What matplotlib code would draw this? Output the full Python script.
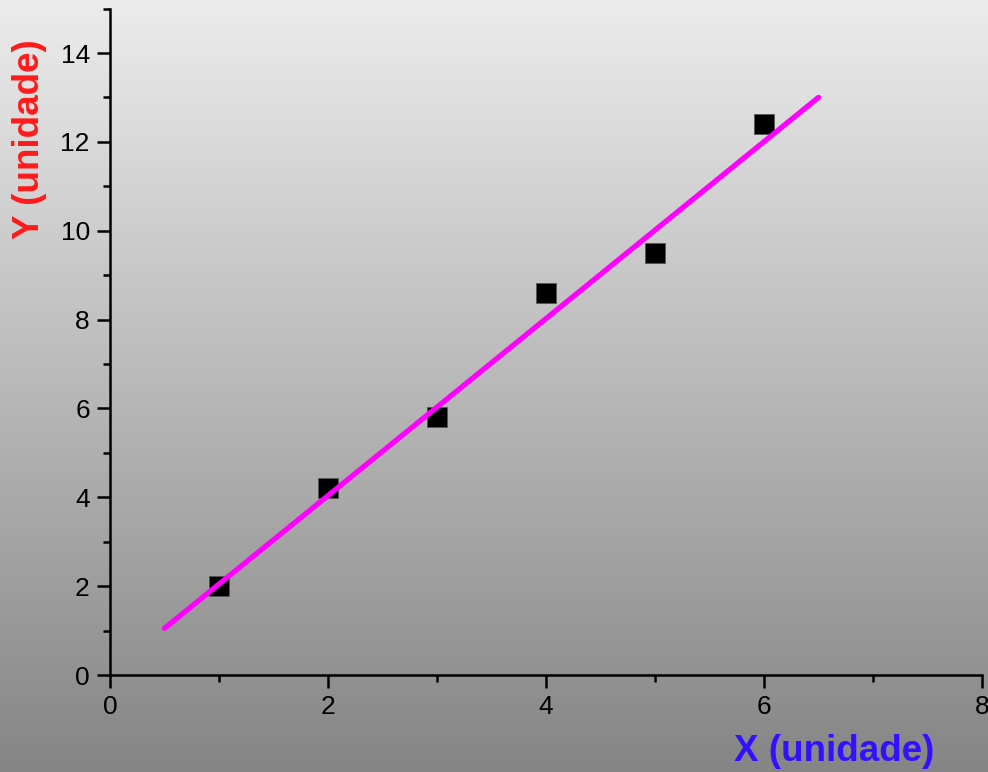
import numpy as np
import matplotlib
matplotlib.use("Agg")
import matplotlib.pyplot as plt
from matplotlib.ticker import MultipleLocator

plt.rcParams['font.family'] = ['Liberation Sans', 'DejaVu Sans']

# data
x_pts = [1, 2, 3, 4, 5, 6]
y_pts = [2.0, 4.2, 5.8, 8.6, 9.5, 12.4]
fit_x = [0.5, 6.5]
fit_y = [1.05, 13.0]

fig = plt.figure(figsize=(9.88, 7.72), dpi=100)

# gradient background
bg = fig.add_axes([0, 0, 1, 1], zorder=-10)
grad = np.linspace(0, 1, 256).reshape(-1, 1)
bg.imshow(grad, aspect='auto', cmap=matplotlib.colors.LinearSegmentedColormap.from_list(
    'g', ['#ececec', '#858585']), extent=[0, 1, 0, 1], origin='upper')
bg.axis('off')

ax = fig.add_axes([0.1113, 0.1256, 0.8826, 0.8633])
ax.patch.set_alpha(0)

ax.plot(x_pts, y_pts, 's', color='black', markersize=14, markeredgecolor='#555555',
        markeredgewidth=0.6, zorder=3)
ax.plot(fit_x, fit_y, color='#ff00ff', linewidth=3.8, solid_capstyle='round', zorder=4)

ax.set_xlim(0, 8)
ax.set_ylim(0, 15)
ax.xaxis.set_major_locator(MultipleLocator(2))
ax.xaxis.set_minor_locator(MultipleLocator(1))
ax.yaxis.set_major_locator(MultipleLocator(2))
ax.yaxis.set_minor_locator(MultipleLocator(1))

for s in ['top', 'right']:
    ax.spines[s].set_visible(False)
for s in ['left', 'bottom']:
    ax.spines[s].set_linewidth(1.8)

ax.tick_params(which='major', direction='out', length=9.5, width=1.8, labelsize=19,
               pad=5, colors='black')
ax.tick_params(which='minor', direction='out', length=5, width=1.8)

ax.set_xlabel('X (unidade)', fontsize=26.5, fontweight='bold', color='#3311ff')
ax.xaxis.set_label_coords(0.831, -0.088)
ax.set_ylabel('Y (unidade)', fontsize=26.5, fontweight='bold', color='#ff1a1a')
ax.yaxis.set_label_coords(-0.072, 0.804)

fig.savefig('out.png', dpi=100)
